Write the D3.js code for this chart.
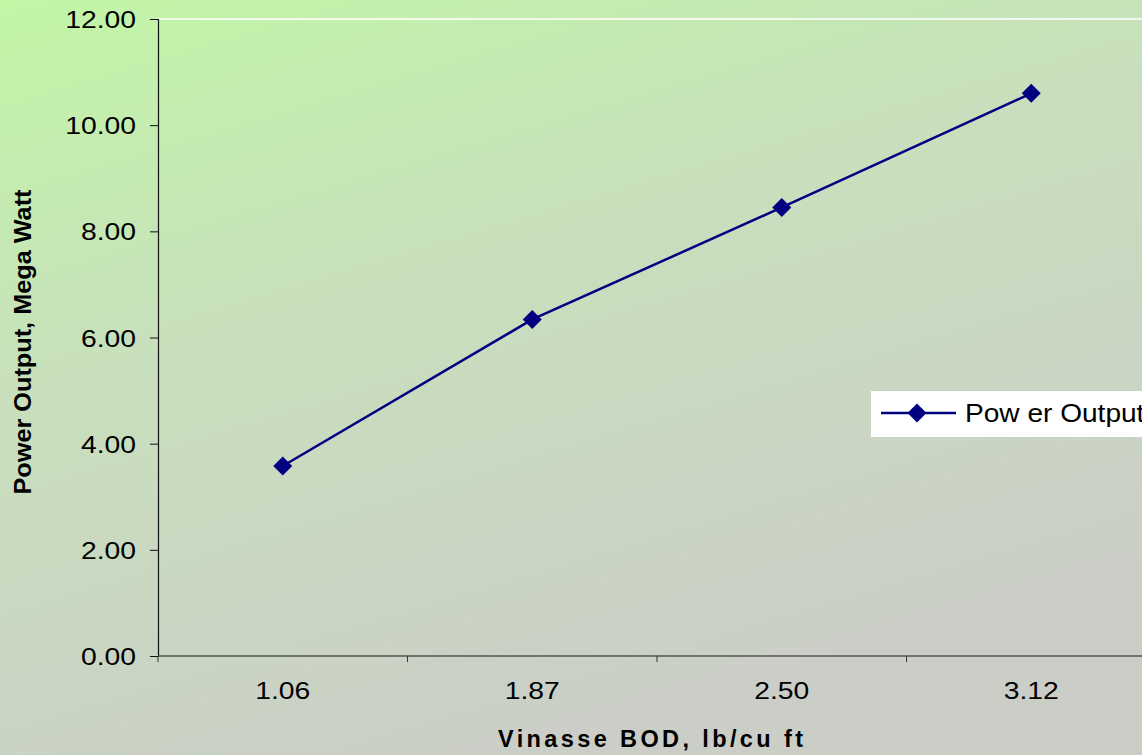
<!DOCTYPE html>
<html>
<head>
<meta charset="utf-8">
<script src="https://cdn.jsdelivr.net/npm/d3@7"></script>
<style>
  html, body { margin: 0; padding: 0; background: #c9d6c2; }
  svg { display: block; }
  text { font-family: "Liberation Sans", Arial, sans-serif; fill: #000; }
</style>
</head>
<body>
<svg id="chart" width="1142" height="755"></svg>
<script>
// Vinasse BOD categories and power output (MW)
const categories = ["1.06", "1.87", "2.50", "3.12"];
const powerOutput = [3.58, 6.34, 8.45, 10.60];
const yTicks = [0, 2, 4, 6, 8, 10, 12];
const seriesName = "Pow er Output";
const xTitle = "Vinasse BOD, lb/cu ft";
const yTitle = "Power Output, Mega Watt";

const W = 1142, H = 755;
const plot = { left: 158, top: 19, right: 1156, bottom: 656 };
const navy = "#000080";
const stretch = 1.18;

const svg = d3.select("#chart");

// Background gradient: green at the top left fading to grey-green lower right
const defs = svg.append("defs");
const grad = defs.append("linearGradient")
  .attr("id", "bg").attr("x1", "0").attr("y1", "0").attr("x2", "0.45").attr("y2", "1");
grad.append("stop").attr("offset", "0").attr("stop-color", "#c2f6a6");
grad.append("stop").attr("offset", "0.45").attr("stop-color", "#c8dfbd");
grad.append("stop").attr("offset", "1").attr("stop-color", "#cbcec7");
svg.append("rect").attr("width", W).attr("height", H).attr("fill", "url(#bg)");

const x = d3.scaleBand().domain(categories).range([plot.left, plot.right]);
const y = d3.scaleLinear().domain([0, 12]).range([plot.bottom, plot.top]);

// Plot area top border (white)
svg.append("line")
  .attr("x1", plot.left).attr("x2", W)
  .attr("y1", y(12)).attr("y2", y(12))
  .attr("stroke", "#ffffff").attr("stroke-width", 1.5);

// Y axis
const yAxis = svg.append("g")
  .attr("transform", `translate(${plot.left},0)`)
  .call(d3.axisLeft(y).tickValues(yTicks).tickFormat(d3.format(".2f")).tickSize(8).tickPadding(0));
yAxis.select(".domain").attr("stroke", "#111").attr("stroke-width", 1.2);
yAxis.selectAll(".tick line").attr("stroke", "#111");
yAxis.selectAll(".tick text")
  .attr("x", -22 / stretch).attr("dy", "0.36em")
  .attr("transform", `scale(${stretch},1)`)
  .style("font-size", "24px").style("font-family", "'Liberation Sans', Arial, sans-serif")
  .attr("fill", "#000");

// X axis: category boundaries carry the ticks
const xAxisG = svg.append("g").attr("transform", `translate(0,${plot.bottom})`);
xAxisG.append("line")
  .attr("x1", plot.left).attr("x2", W).attr("y1", 0).attr("y2", 0)
  .attr("stroke", "#555").attr("stroke-width", 1.5);
const bounds = categories.map(c => x(c)).concat([x(categories[categories.length - 1]) + x.bandwidth()]);
xAxisG.selectAll(".xtick").data(bounds).join("line")
  .attr("x1", d => d).attr("x2", d => d).attr("y1", 0).attr("y2", 6)
  .attr("stroke", "#333");
xAxisG.selectAll(".xlab").data(categories).join("text")
  .attr("transform", d => `translate(${x(d) + x.bandwidth() / 2},43) scale(${stretch},1)`)
  .attr("text-anchor", "middle")
  .style("font-size", "24px")
  .text(d => d);

// Axis titles
svg.append("text")
  .attr("x", 498).attr("y", 747)
  .attr("textLength", 305).attr("lengthAdjust", "spacing")
  .style("font-size", "23.5px").style("font-weight", "bold")
  .text(xTitle);

svg.append("text")
  .attr("transform", "translate(31,342) rotate(-90)")
  .attr("text-anchor", "middle")
  .attr("textLength", 305).attr("lengthAdjust", "spacingAndGlyphs")
  .style("font-size", "23.5px").style("font-weight", "bold")
  .text(yTitle);

// Series line and diamond markers
const line = d3.line()
  .x((d, i) => x(categories[i]) + x.bandwidth() / 2)
  .y(d => y(d));
svg.append("path")
  .datum(powerOutput)
  .attr("d", line)
  .attr("fill", "none").attr("stroke", navy).attr("stroke-width", 2.5);

const diamond = d3.symbol().type(d3.symbolSquare).size(180);
svg.selectAll(".marker").data(powerOutput).join("path")
  .attr("d", diamond)
  .attr("transform", (d, i) => `translate(${x(categories[i]) + x.bandwidth() / 2},${y(d)}) rotate(45)`)
  .attr("fill", navy);

// Legend (runs off the right edge of the canvas)
const lg = svg.append("g").attr("transform", "translate(871,391)");
lg.append("rect").attr("width", 300).attr("height", 46).attr("fill", "#ffffff");
lg.append("line").attr("x1", 10).attr("x2", 85).attr("y1", 22).attr("y2", 22)
  .attr("stroke", navy).attr("stroke-width", 2.5);
lg.append("path").attr("d", diamond)
  .attr("transform", "translate(46,22) rotate(45)").attr("fill", navy);
lg.append("text")
  .attr("transform", "translate(94,31) scale(1.08,1)")
  .style("font-size", "26px")
  .text(seriesName);
</script>
</body>
</html>
